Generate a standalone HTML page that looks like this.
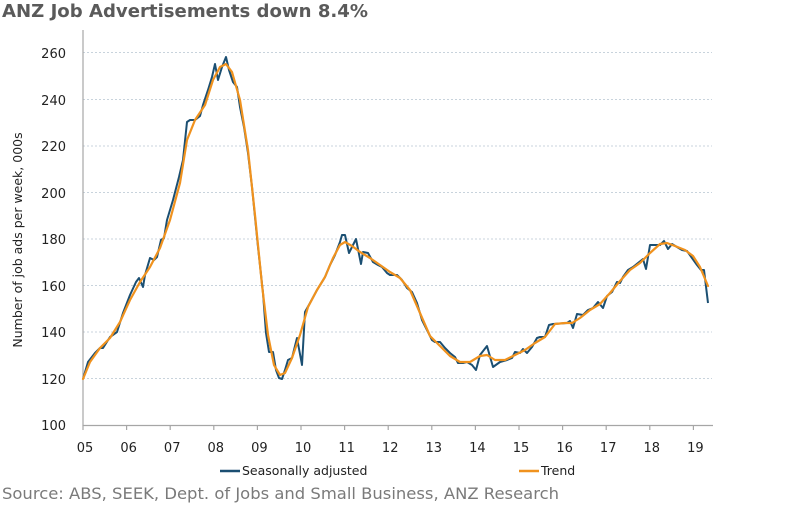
<!DOCTYPE html>
<html><head><meta charset="utf-8"><style>
body{margin:0;background:#fff;}
svg{display:block;font-family:"DejaVu Sans","Liberation Sans",sans-serif;}
</style></head><body>
<svg width="791" height="511" viewBox="0 0 791 511" xmlns="http://www.w3.org/2000/svg">
<text x="2" y="17" font-size="18" font-weight="bold" fill="#5a5a5a" textLength="366" lengthAdjust="spacingAndGlyphs">ANZ Job Advertisements down 8.4%</text>
<g stroke="#c8d3dc" stroke-width="1" stroke-dasharray="2,2">
<line x1="83" y1="52.5" x2="712" y2="52.5"/><line x1="83" y1="99.5" x2="712" y2="99.5"/>
<line x1="83" y1="146" x2="712" y2="146"/><line x1="83" y1="192.5" x2="712" y2="192.5"/>
<line x1="83" y1="239" x2="712" y2="239"/><line x1="83" y1="285.5" x2="712" y2="285.5"/>
<line x1="83" y1="332" x2="712" y2="332"/><line x1="83" y1="378.5" x2="712" y2="378.5"/>
</g>
<g stroke="#a6a6a6" stroke-width="1.2">
<line x1="83" y1="30" x2="83" y2="425.5"/><line x1="83" y1="425.5" x2="713" y2="425.5"/>
<line x1="83" y1="425" x2="83" y2="430"/><line x1="126.6" y1="425" x2="126.6" y2="430"/><line x1="170.2" y1="425" x2="170.2" y2="430"/><line x1="213.8" y1="425" x2="213.8" y2="430"/><line x1="257.4" y1="425" x2="257.4" y2="430"/><line x1="301" y1="425" x2="301" y2="430"/><line x1="344.6" y1="425" x2="344.6" y2="430"/><line x1="388.2" y1="425" x2="388.2" y2="430"/><line x1="431.8" y1="425" x2="431.8" y2="430"/><line x1="475.4" y1="425" x2="475.4" y2="430"/><line x1="519" y1="425" x2="519" y2="430"/><line x1="562.6" y1="425" x2="562.6" y2="430"/><line x1="606.2" y1="425" x2="606.2" y2="430"/><line x1="649.8" y1="425" x2="649.8" y2="430"/><line x1="693.4" y1="425" x2="693.4" y2="430"/>
</g>
<g font-size="13" fill="#222" text-anchor="end">
<text x="66" y="58">260</text><text x="66" y="105">240</text><text x="66" y="151">220</text><text x="66" y="198">200</text><text x="66" y="244">180</text><text x="66" y="291">160</text><text x="66" y="337">140</text><text x="66" y="384">120</text><text x="66" y="430">100</text>
</g>
<g font-size="13" fill="#222" text-anchor="middle">
<text x="85" y="452">05</text><text x="128.6" y="452">06</text><text x="172.2" y="452">07</text><text x="215.8" y="452">08</text><text x="259.4" y="452">09</text><text x="303" y="452">10</text><text x="346.6" y="452">11</text><text x="390.2" y="452">12</text><text x="433.8" y="452">13</text><text x="477.4" y="452">14</text><text x="521" y="452">15</text><text x="564.6" y="452">16</text><text x="608.2" y="452">17</text><text x="651.8" y="452">18</text><text x="695.4" y="452">19</text>
</g>
<text transform="translate(22,240) rotate(-90)" font-size="12.5" fill="#222" text-anchor="middle">Number of job ads per week, 000s</text>
<polyline fill="none" stroke="#1b4f72" stroke-width="2" stroke-linejoin="round" points="83,379 88,362 95,353 100,348 103,348 110,337 117,332 123,313 130,295 136,282 139,278 143,287 145,275 150,258 154,260 157,257 161,240 164,238 167,220 173,200 179,177 183,160 187,122 190,120 195,120 200,116 203,105 208,90 212,77 215,64 218,80 222,67 226,57 229,70 233,82 237,87 240,107 244,127 248,153 252,187 255,217 258,247 263,293 266,333 269,352 273,352 276,370 279,378 282,379 285,370 288,360 292,358 297,338 302,365 305,312 310,303 317,290 322,282 325,277 330,265 335,255 340,242 342,235 345,235 349,253 353,245 356,239 361,264 363,252 368,253 373,262 378,265 382,267 387,273 390,275 397,275 402,280 407,288 412,292 417,303 422,320 427,330 432,340 435,342 440,342 445,348 450,353 455,357 458,363 463,363 467,362 472,365 476,370 480,355 487,346 493,367 500,362 507,360 512,358 515,352 520,353 523,349 527,353 532,347 537,338 540,337 545,337 549,325 553,324 567,323 570,321 573,328 577,314 583,315 588,310 593,308 598,302 603,308 607,296 612,292 617,282 620,283 623,277 628,270 633,267 638,263 643,259 646,269 650,245 655,245 660,245 664,241 668,249 672,244 677,247 682,250 687,251 692,258 697,265 701,270 704,270 708,303"/>
<polyline fill="none" stroke="#f0921e" stroke-width="2.2" stroke-linejoin="round" stroke-linecap="round" points="83,379 90,362 100,348 110,338 120,322 130,300 140,282 150,267 160,248 170,220 180,183 187,140 195,120 205,105 213,80 220,67 226,64 232,72 240,100 248,150 255,215 262,285 268,335 274,365 280,375 285,373 292,358 300,335 308,307 317,290 325,277 333,258 340,245 345,242 352,246 360,252 370,258 380,265 390,272 400,278 410,290 420,313 430,336 440,346 450,356 460,362 470,362 480,356 487,355 495,360 505,360 515,355 525,350 535,343 545,337 555,324 565,323 572,323 580,318 590,310 600,304 610,293 620,281 630,270 640,263 650,253 660,244 667,243 675,246 685,250 693,256 700,267 708,286"/>
<line x1="220" y1="471" x2="240" y2="471" stroke="#1b4f72" stroke-width="2.5"/>
<text x="242" y="475" font-size="12.5" fill="#222">Seasonally adjusted</text>
<line x1="519" y1="471" x2="539" y2="471" stroke="#f0921e" stroke-width="2.5"/>
<text x="541" y="475" font-size="12.5" fill="#222">Trend</text>
<text x="2" y="499" font-size="16" fill="#7a7a7a" textLength="557" lengthAdjust="spacingAndGlyphs">Source: ABS, SEEK, Dept. of Jobs and Small Business, ANZ Research</text>
</svg>
</body></html>
